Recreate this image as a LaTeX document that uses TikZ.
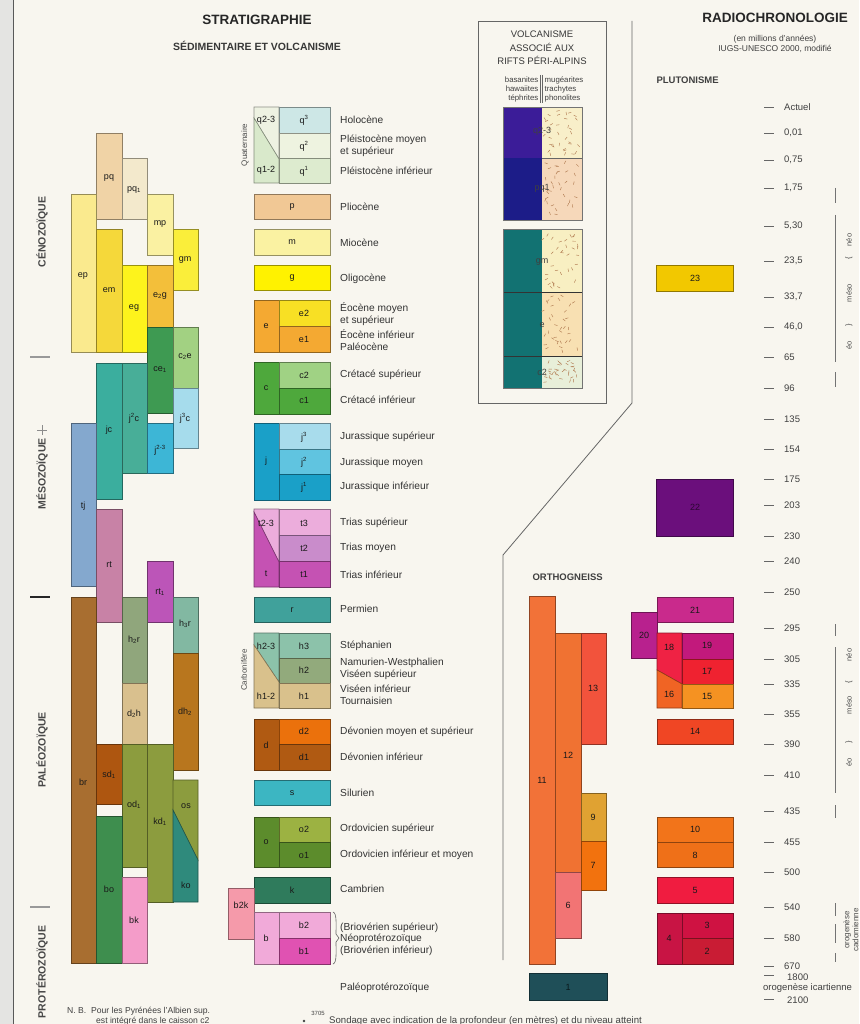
\documentclass[tikz,border=0pt]{standalone}
\usepackage{fontspec}
\setmainfont{Liberation Sans}
\definecolor{bg}{HTML}{F8F6EF}
\definecolor{stripgray}{HTML}{E4E4E2}
% left stack
\definecolor{cPQ}{HTML}{F0D3A6}\definecolor{cPQa}{HTML}{F3E9CC}\definecolor{cMP}{HTML}{FAF1A2}
\definecolor{cGM}{HTML}{FAEE3A}\definecolor{cEP}{HTML}{FAEA8E}\definecolor{cEM}{HTML}{F5D83A}
\definecolor{cEG}{HTML}{FDF31C}\definecolor{cEZG}{HTML}{F3BF3A}\definecolor{cCE}{HTML}{3E9A52}
\definecolor{cCZE}{HTML}{A2D182}\definecolor{cJTC}{HTML}{A6DCEC}\definecolor{cJC}{HTML}{3BAE9E}
\definecolor{cJZC}{HTML}{48AE98}\definecolor{cJZT}{HTML}{3DB6D6}\definecolor{cTJ}{HTML}{84A8CE}
\definecolor{cRT}{HTML}{C882A6}\definecolor{cRTa}{HTML}{BC55B8}\definecolor{cBR}{HTML}{A86E30}
\definecolor{cHZR}{HTML}{90A67C}\definecolor{cDZH}{HTML}{D9C08E}\definecolor{cHTR}{HTML}{82B8A2}
\definecolor{cDHZ}{HTML}{B8761E}\definecolor{cSD}{HTML}{AE5610}\definecolor{cOD}{HTML}{8C9C3E}
\definecolor{cKO}{HTML}{2F8A7C}\definecolor{cBO}{HTML}{3E8E4E}\definecolor{cBK}{HTML}{F49CC9}
% centre legend
\definecolor{cQT}{HTML}{CDE7E6}\definecolor{cQZ}{HTML}{EEF3E0}\definecolor{cQO}{HTML}{DDEBCF}
\definecolor{cQZT}{HTML}{EEF2E2}\definecolor{cQOZ}{HTML}{D9E9CB}\definecolor{cP}{HTML}{F1C895}
\definecolor{cM}{HTML}{FAF2A2}\definecolor{cG}{HTML}{FFF200}\definecolor{cE}{HTML}{F4A932}
\definecolor{cEZ}{HTML}{F8E024}\definecolor{cC}{HTML}{4EA83C}\definecolor{cCZ}{HTML}{A0D284}
\definecolor{cJ}{HTML}{1AA0C8}\definecolor{cJT}{HTML}{A8DCEC}\definecolor{cJZ}{HTML}{60C4E0}
\definecolor{cT}{HTML}{C552B3}\definecolor{cTT}{HTML}{ECADDC}\definecolor{cTZ}{HTML}{C98CCB}
\definecolor{cR}{HTML}{40A19B}\definecolor{cHT}{HTML}{8CC2AA}\definecolor{cHZ}{HTML}{92AA7C}
\definecolor{cHO}{HTML}{D9C18C}\definecolor{cD}{HTML}{B05A12}\definecolor{cDZ}{HTML}{EB710C}
\definecolor{cS}{HTML}{3CB6C2}\definecolor{cO}{HTML}{5C8C2C}\definecolor{cOZ}{HTML}{9CB242}
\definecolor{cK}{HTML}{2F7B5C}\definecolor{cBZK}{HTML}{F59AAA}\definecolor{cB}{HTML}{F1AAD9}
\definecolor{cBI}{HTML}{E052B2}
% volcanism
\definecolor{cVa}{HTML}{3B1C98}\definecolor{cVb}{HTML}{1C1C88}\definecolor{cVc}{HTML}{127272}
\definecolor{cVd}{HTML}{F8EFC9}\definecolor{cVe}{HTML}{F6D8BA}\definecolor{cVf}{HTML}{F8EFC2}
\definecolor{cVg}{HTML}{F8E0B2}\definecolor{cVh}{HTML}{E8EFD9}\definecolor{speckc}{HTML}{B07A50}
% plutonism / orthogneiss
\definecolor{cXXIII}{HTML}{F2C800}\definecolor{cXXII}{HTML}{6B0F7C}\definecolor{cXXI}{HTML}{C92A8C}
\definecolor{cXX}{HTML}{B8218E}\definecolor{cXIX}{HTML}{C2197C}\definecolor{cXVIII}{HTML}{EF2244}
\definecolor{cXVII}{HTML}{EF2230}\definecolor{cXVI}{HTML}{F06424}\definecolor{cXV}{HTML}{F59222}
\definecolor{cXIV}{HTML}{F04624}\definecolor{cX}{HTML}{F2741A}\definecolor{cVIII}{HTML}{EF7018}
\definecolor{cV}{HTML}{F01C40}\definecolor{cIV}{HTML}{C81444}\definecolor{cIII}{HTML}{CF1242}
\definecolor{cII}{HTML}{C91C34}\definecolor{cXI}{HTML}{F27238}\definecolor{cXII}{HTML}{F07232}
\definecolor{cVI}{HTML}{F27474}\definecolor{cXIII}{HTML}{F2533C}\definecolor{cIX}{HTML}{E0A232}
\definecolor{cVII}{HTML}{F2720E}\definecolor{cI}{HTML}{1F4F58}

\newcommand\gb[5]{\filldraw[fill=#5, draw=#5!60!black, line width=0.6pt] (#1,#2) rectangle (#3,#4);}
\newcommand\gp[2]{\filldraw[fill=#1, draw=#1!60!black, line width=0.6pt] #2 -- cycle;}
\newcommand\vspeck[4]{%
  \foreach \i in {1,...,34}{%
    \pgfmathsetmacro\rx{#1+2+rnd*(#3-#1-6)}%
    \pgfmathsetmacro\ry{#2+2+rnd*(#4-#2-6)}%
    \pgfmathsetmacro\ra{rnd*180}%
    \draw[speck] (\rx,\ry) -- ++(\ra:3.2);}}

\tikzset{
  lab/.style={font=\fontsize{9}{9}\selectfont, text=black!90, inner sep=0},
  desc/.style={font=\fontsize{10.2}{11.5}\selectfont, text=black!80, anchor=west, inner sep=0, align=left},
  tick/.style={draw=black!60, line width=0.9pt},
  num/.style={font=\fontsize{9.5}{10}\selectfont, text=black!75, anchor=west, inner sep=0},
  era/.style={rotate=90, font=\bfseries\fontsize{10.5}{11}\selectfont, text=black!72, inner sep=0},
  bar/.style={draw=black!55, line width=1pt},
  speck/.style={draw=speckc, line width=0.45pt},
  small/.style={rotate=90, font=\fontsize{7.5}{8}\selectfont, text=black!70, inner sep=0},
}

\begin{document}
\begin{tikzpicture}[x=1pt,y=-1pt]
\path[use as bounding box, fill=bg] (0,0) rectangle (859,1024);
\fill[stripgray] (0,0) rectangle (13,1024);
\draw[black!65, line width=1.3pt] (13.5,0) -- (13.5,1024);

% ---------- titles
\node[font=\bfseries\fontsize{13.5}{14}\selectfont, text=black!85] (tstrat) at (257,20) {STRATIGRAPHIE};
\node[font=\bfseries\fontsize{10.5}{11}\selectfont, text=black!78] (tsed) at (257,46) {SÉDIMENTAIRE ET VOLCANISME};
\node[font=\bfseries\fontsize{13.5}{14}\selectfont, text=black!85] (tradio) at (775,18) {RADIOCHRONOLOGIE};
\node[font=\fontsize{8.5}{10}\selectfont, text=black!75, align=center] (tmil) at (775,44) {(en millions d'années)\\IUGS-UNESCO 2000, modifié};
\node[font=\bfseries\fontsize{9.5}{10}\selectfont, text=black!75, anchor=west] (tplut) at (653,80) {PLUTONISME};
\node[font=\bfseries\fontsize{9.5}{10}\selectfont, text=black!75, anchor=west] (tortho) at (529,577) {ORTHOGNEISS};

% ---------- era labels (left)
\node[era] (cen) at (42,232) {CÉNOZOÏQUE};
\node[era] (mes) at (42,474) {MÉSOZOÏQUE};
\node[era] (pal) at (42,750) {PALÉOZOÏQUE};
\node[era] (pro) at (42,972) {PROTÉROZOÏQUE};
\draw[black!40, line width=2.5pt] (30,357) -- (50,357);
\draw[black!85, line width=1.6pt] (30,597) -- (50,597);
\draw[black!40, line width=2.5pt] (30,907) -- (50,907);
\draw[black!45, line width=0.6pt] (37,430) -- (47,430) (42,425) -- (42,435);

% ---------- left stack
\gb{96}{133}{122}{219}{cPQ}
\gb{122}{158}{147}{219}{cPQa}
\gb{147}{194}{173}{255}{cMP}
\gb{173}{229}{198}{290}{cGM}
\gb{71}{194}{96}{352}{cEP}
\gb{96}{229}{122}{352}{cEM}
\gb{122}{265}{147}{352}{cEG}
\gb{147}{265}{173}{327}{cEZG}
\gb{147}{327}{173}{413}{cCE}
\gb{173}{327}{198}{388}{cCZE}
\gb{173}{388}{198}{448}{cJTC}
\gb{96}{363}{122}{499}{cJC}
\gb{122}{363}{147}{473}{cJZC}
\gb{147}{423}{173}{473}{cJZT}
\gb{71}{423}{96}{586}{cTJ}
\gb{96}{509}{122}{622}{cRT}
\gb{147}{561}{173}{622}{cRTa}
\gb{71}{597}{96}{963}{cBR}
\gb{122}{597}{147}{683}{cHZR}
\gb{122}{683}{147}{744}{cDZH}
\gb{173}{597}{198}{653}{cHTR}
\gb{173}{653}{198}{770}{cDHZ}
\gb{96}{744}{122}{804}{cSD}
\gb{122}{744}{147}{867}{cOD}
\gb{147}{744}{173}{902}{cOD}
\gp{cOD}{(173,780) -- (198,780) -- (198,860) -- (173,810)}
\gp{cKO}{(173,810) -- (198,860) -- (198,902) -- (173,902)}
\gb{96}{816}{122}{963}{cBO}
\gb{122}{877}{147}{963}{cBK}

\node[lab] (lpq) at (109,178) {pq};
\node[lab] (lpqa) at (134,190) {pq\textsubscript{1}};
\node[lab] (lmp) at (160,224) {mp};
\node[lab] (lgm) at (185,260) {gm};
\node[lab] (lep) at (83,276) {ep};
\node[lab] (lem) at (109,290) {em};
\node[lab] (leg) at (134,308) {eg};
\node[lab] (lezg) at (160,296) {e\textsubscript{2}g};
\node[lab] (lce) at (160,370) {ce\textsubscript{1}};
\node[lab] (lcze) at (185,357) {c\textsubscript{2}e};
\node[lab] (ljtc) at (185,418) {j\textsuperscript{3}c};
\node[lab] (ljc) at (109,430) {jc};
\node[lab] (ljzc) at (134,418) {j\textsuperscript{2}c};
\node[lab] (ljzt) at (160,450) {j\textsuperscript{2-3}};
\node[lab] (ltj) at (83,506) {tj};
\node[lab] (lrt) at (109,565) {rt};
\node[lab] (lrta) at (160,592) {rt\textsubscript{1}};
\node[lab] (lbr) at (83,782) {br};
\node[lab] (lhzr) at (134,640) {h\textsubscript{2}r};
\node[lab] (ldzh) at (134,714) {d\textsubscript{2}h};
\node[lab] (lhtr) at (185,624) {h\textsubscript{3}r};
\node[lab] (ldhz) at (185,712) {dh\textsubscript{2}};
\node[lab] (lsd) at (109,775) {sd\textsubscript{1}};
\node[lab] (lod) at (134,805) {od\textsubscript{1}};
\node[lab] (lkd) at (160,822) {kd\textsubscript{1}};
\node[lab] (los) at (186,806) {os};
\node[lab] (lko) at (186,885) {ko};
\node[lab] (lbo) at (109,889) {bo};
\node[lab] (lbk) at (134,920) {bk};

% ---------- centre legend boxes
\node[rotate=90, font=\fontsize{8}{8}\selectfont, text=black!70, inner sep=0] (quat) at (245,145) {Quaternaire};
\gp{cQZT}{(254,107) -- (279,107) -- (279,159) -- (254,118)}
\gp{cQOZ}{(254,118) -- (279,159) -- (279,183) -- (254,183)}
\gb{279}{107}{330}{133}{cQT}
\gb{279}{133}{330}{158}{cQZ}
\gb{279}{158}{330}{183}{cQO}
\node[lab] (lqzt) at (266,120) {q2-3};
\node[lab] (lqoz) at (266,170) {q1-2};
\node[lab] (lqt) at (304,120) {q\textsuperscript{3}};
\node[lab] (lqz) at (304,146) {q\textsuperscript{2}};
\node[lab] (lqo) at (304,171) {q\textsuperscript{1}};

\gb{254}{194}{330}{219}{cP}   \node[lab] (lp) at (292,207) {p};
\gb{254}{229}{330}{255}{cM}   \node[lab] (lm) at (292,242) {m};
\gb{254}{265}{330}{290}{cG}   \node[lab] (lg) at (292,278) {g};

\gb{254}{300}{279}{352}{cE}
\gb{279}{300}{330}{326}{cEZ}
\gb{279}{326}{330}{352}{cE}
\node[lab] (le) at (266,326) {e}; \node[lab] (lez) at (304,313) {e2}; \node[lab] (leo) at (304,339) {e1};

\gb{254}{362}{279}{414}{cC}
\gb{279}{362}{330}{388}{cCZ}
\gb{279}{388}{330}{414}{cC}
\node[lab] (lc) at (266,388) {c}; \node[lab] (lcz) at (304,375) {c2}; \node[lab] (lco) at (304,400) {c1};

\gb{254}{423}{279}{500}{cJ}
\gb{279}{423}{330}{449}{cJT}
\gb{279}{449}{330}{474}{cJZ}
\gb{279}{474}{330}{500}{cJ}
\node[lab] (lj) at (266,461) {j}; \node[lab] (ljt) at (304,437) {j\textsuperscript{3}};
\node[lab] (ljz) at (304,462) {j\textsuperscript{2}}; \node[lab] (ljo) at (304,487) {j\textsuperscript{1}};

\gp{cTT}{(254,509) -- (279,509) -- (279,562) -- (254,512)}
\gp{cT}{(254,512) -- (279,562) -- (279,587) -- (254,587)}
\gb{279}{509}{330}{535}{cTT}
\gb{279}{535}{330}{561}{cTZ}
\gb{279}{561}{330}{587}{cT}
\node[lab] (ltzt) at (266,523) {t2-3}; \node[lab] (lt) at (266,574) {t};
\node[lab] (ltt) at (304,523) {t3}; \node[lab] (ltz) at (304,548) {t2}; \node[lab] (lto) at (304,574) {t1};

\gb{254}{597}{330}{622}{cR}   \node[lab] (lr) at (292,610) {r};

\node[rotate=90, font=\fontsize{8}{8}\selectfont, text=black!70, inner sep=0] (carb) at (244,670) {Carbonifère};
\gp{cHT}{(254,633) -- (279,633) -- (279,682) -- (254,645)}
\gp{cHO}{(254,645) -- (279,682) -- (279,708) -- (254,708)}
\gb{279}{633}{330}{658}{cHT}
\gb{279}{658}{330}{683}{cHZ}
\gb{279}{683}{330}{708}{cHO}
\node[lab] (lhzt) at (266,646) {h2-3}; \node[lab] (lhoz) at (266,696) {h1-2};
\node[lab] (lht) at (304,646) {h3}; \node[lab] (lhz) at (304,670) {h2}; \node[lab] (lho) at (304,696) {h1};

\gb{254}{719}{279}{770}{cD}
\gb{279}{719}{330}{744}{cDZ}
\gb{279}{744}{330}{770}{cD}
\node[lab] (ld) at (266,745) {d}; \node[lab] (ldz) at (304,731) {d2}; \node[lab] (ldo) at (304,757) {d1};

\gb{254}{780}{330}{805}{cS}   \node[lab] (ls) at (292,793) {s};

\gb{254}{817}{279}{867}{cO}
\gb{279}{817}{330}{842}{cOZ}
\gb{279}{842}{330}{867}{cO}
\node[lab] (lo) at (266,842) {o}; \node[lab] (loz) at (304,829) {o2}; \node[lab] (loo) at (304,855) {o1};

\gb{254}{877}{330}{903}{cK}   \node[lab] (lk) at (292,890) {k};

\gb{228}{888}{254}{939}{cBZK}
\gb{254}{912}{279}{964}{cB}
\gb{279}{912}{330}{938}{cB}
\gb{279}{938}{330}{964}{cBI}
\node[lab] (lbzk) at (241,905) {b2k};
\node[lab] (lb) at (266,938) {b}; \node[lab] (lbz) at (304,925) {b2}; \node[lab] (lbo1) at (304,951) {b1};
\draw[black!60, line width=0.6pt] (333,912) .. controls (337,913) and (336,925) .. (336,934) -- (339,938) -- (336,942) .. controls (336,951) and (337,963) .. (333,964);

% ---------- centre descriptions
\node[desc] (dhol) at (340,120) {Holocène};
\node[desc] (dplm) at (340,146) {Pléistocène moyen\\et supérieur};
\node[desc] (dpli) at (340,171) {Pléistocène inférieur};
\node[desc] (dplio) at (340,207) {Pliocène};
\node[desc] (dmio) at (340,243) {Miocène};
\node[desc] (doli) at (340,279) {Oligocène};
\node[desc] (deom) at (340,314) {Éocène moyen\\et supérieur};
\node[desc] (deoi) at (340,340) {Éocène inférieur\\Paléocène};
\node[desc] (dcrs) at (340,375) {Crétacé supérieur};
\node[desc] (dcri) at (340,400) {Crétacé inférieur};
\node[desc] (djus) at (340,437) {Jurassique supérieur};
\node[desc] (djum) at (340,463) {Jurassique moyen};
\node[desc] (djui) at (340,487) {Jurassique inférieur};
\node[desc] (dtrs) at (340,523) {Trias supérieur};
\node[desc] (dtrm) at (340,548) {Trias moyen};
\node[desc] (dtri) at (340,575) {Trias inférieur};
\node[desc] (dper) at (340,609) {Permien};
\node[desc] (dste) at (340,646) {Stéphanien};
\node[desc] (dnam) at (340,669) {Namurien-Westphalien\\Viséen supérieur};
\node[desc] (dvis) at (340,695) {Viséen inférieur\\Tournaisien};
\node[desc] (ddvs) at (340,732) {Dévonien moyen et supérieur};
\node[desc] (ddvi) at (340,757) {Dévonien inférieur};
\node[desc] (dsil) at (340,793) {Silurien};
\node[desc] (dors) at (340,829) {Ordovicien supérieur};
\node[desc] (dori) at (340,855) {Ordovicien inférieur et moyen};
\node[desc] (dcam) at (340,889) {Cambrien};
\node[desc] (dbri) at (340,939) {(Briovérien supérieur)\\Néoprotérozoïque\\(Briovérien inférieur)};
\node[desc] (dpal) at (340,988) {Paléoprotérozoïque};

% ---------- volcanism box
\draw[black!60, line width=0.8pt] (478,21) rectangle (606,403);
\node[font=\fontsize{9.5}{13.5}\selectfont, text=black!78, align=center] (vtit) at (542,48) {VOLCANISME\\ASSOCIÉ AUX\\RIFTS PÉRI-ALPINS};
\node[font=\fontsize{7.8}{9}\selectfont, text=black!75, align=right, anchor=east, inner sep=0] (vbas) at (538.5,89) {basanites\\hawaiites\\téphrites};
\node[font=\fontsize{7.8}{9}\selectfont, text=black!75, align=left, anchor=west, inner sep=0] (vmug) at (544.5,89) {mugéarites\\trachytes\\phonolites};
\draw[black!60, line width=0.5pt] (540.3,75) -- (540.3,103) (542.7,75) -- (542.7,103);

\fill[cVa] (503,107) rectangle (542,158);
\fill[cVb] (503,158) rectangle (542,220);
\fill[cVd] (542,107) rectangle (582,158);
\fill[cVe] (542,158) rectangle (582,220);
\draw[black!60, line width=0.5pt] (542,158) -- (582,158);
\draw[black!55, line width=0.6pt] (503,107) rectangle (582,220);
\fill[cVc] (503,229) rectangle (542,388);
\fill[cVf] (542,229) rectangle (582,292);
\fill[cVg] (542,292) rectangle (582,356);
\fill[cVh] (542,356) rectangle (582,388);
\pgfmathsetseed{7}
\vspeck{542}{107}{582}{158}
\vspeck{542}{158}{582}{220}
\vspeck{542}{229}{582}{292}
\vspeck{542}{292}{582}{356}
\vspeck{542}{356}{582}{388}
\draw[black!80, line width=0.6pt] (503,292) -- (582,292) (503,356) -- (582,356);
\draw[black!55, line width=0.6pt] (503,229) rectangle (582,388);
\node[lab, text=black!75] (vq) at (542,131) {q2-3};
\node[lab, text=black!75] (vpq) at (542,188) {pq1};
\node[lab, text=black!75] (vgm) at (542,262) {gm};
\node[lab, text=black!75] (ve) at (542,325) {e};
\node[lab, text=black!75] (vc) at (542,372) {c2};

% separator line
\coordinate (sa) at (632,21);
\coordinate (sb) at (632,403);
\coordinate (sc) at (503,555);
\coordinate (sd) at (503,960);
\draw[black!60, line width=0.8pt] (sa) -- (sb) -- (sc) -- (sd);

% ---------- plutonism
\gb{656}{265}{733}{291}{cXXIII} \node[lab] (p23) at (695,278) {23};
\gb{656}{479}{733}{536}{cXXII} \node[lab, text=black!60!cXXII] (p22) at (695,507) {22};
\gb{657}{597}{733}{622}{cXXI} \node[lab] (p21) at (695,610) {21};
\gb{631}{612}{657}{658}{cXX} \node[lab] (p20) at (644,635) {20};
\gp{cXVIII}{(657,633) -- (682,633) -- (682,684) -- (657,670)}
\gp{cXVI}{(657,670) -- (682,684) -- (682,708) -- (657,708)}
\gb{682}{633}{733}{659}{cXIX}
\gb{682}{659}{733}{684}{cXVII}
\gb{682}{684}{733}{708}{cXV}
\node[lab] (p18) at (669,647) {18}; \node[lab] (p19) at (707,645) {19};
\node[lab] (p17) at (707,671) {17}; \node[lab] (p16) at (669,694) {16}; \node[lab] (p15) at (707,696) {15};
\gb{657}{719}{733}{744}{cXIV} \node[lab] (p14) at (695,731) {14};
\gb{657}{817}{733}{842}{cX} \node[lab] (p10) at (695,829) {10};
\gb{657}{842}{733}{867}{cVIII} \node[lab] (p8) at (695,855) {8};
\gb{657}{877}{733}{903}{cV} \node[lab] (p5) at (695,890) {5};
\gb{657}{913}{682}{964}{cIV}
\gb{682}{913}{733}{938}{cIII}
\gb{682}{938}{733}{964}{cII}
\node[lab] (p4) at (669,938) {4}; \node[lab] (p3) at (707,925) {3}; \node[lab] (p2) at (707,951) {2};

% ---------- orthogneiss
\gb{529}{596}{555}{964}{cXI} \node[lab] (o11) at (542,780) {11};
\gb{555}{633}{581}{872}{cXII} \node[lab] (o12) at (568,755) {12};
\gb{555}{872}{581}{938}{cVI} \node[lab] (o6) at (568,905) {6};
\gb{581}{633}{606}{744}{cXIII} \node[lab] (o13) at (593,688) {13};
\gb{581}{793}{606}{841}{cIX} \node[lab] (o9) at (593,817) {9};
\gb{581}{841}{606}{890}{cVII} \node[lab] (o7) at (593,865) {7};
\gb{529}{973}{607}{1000}{cI} \node[lab, text=black!70!cI] (o1) at (568,987) {1};

% ---------- time scale
\foreach \yy/\tl in {107/Actuel,133/{0,01},160/{0,75},188/{1,75},226/{5,30},261/{23,5},297/{33,7},327/{46,0},357/65,388/96,419/135,449/154,479/175,505/203,536/230,561/240,592/250,628/295,659/305,684/335,714/355,744/390,775/410,811/435,842/455,872/500,907/540,938/580,966/670}{%
  \draw[tick] (764,\yy) -- (774,\yy);
  \node[num] (ts\yy) at (784,\yy) {\tl};
}
\draw[tick] (764,975) -- (774,975);
\node[num] (ts1800) at (787,977) {1800};
\node[num] (tsic) at (763,988) {orogenèse icartienne};
\draw[tick] (764,999) -- (774,999);
\node[num] (ts2100) at (787,1000) {2100};

% period bars (right)
\draw[bar] (835,188) -- (835,203);
\draw[bar] (835,215) -- (835,362);
\draw[bar] (835,372) -- (835,387);
\node[small] (rn1) at (849,240) {néo};
\node[small] (rb1) at (849,258) {\{};
\node[small] (rm1) at (849,293) {méso};
\node[small] (rb2) at (849,325) {\}};
\node[small] (re1) at (849,345) {éo};

\draw[bar] (835,624) -- (835,636);
\draw[bar] (835,647) -- (835,793);
\draw[bar] (835,805) -- (835,818);
\node[small] (rn2) at (849,655) {néo};
\node[small] (rb3) at (849,682) {\{};
\node[small] (rm2) at (849,705) {méso};
\node[small] (rb4) at (849,742) {\}};
\node[small] (re2) at (849,762) {éo};

\draw[bar] (835,903) -- (835,916);
\draw[bar] (835,924) -- (835,943);
\draw[bar] (835,953) -- (835,962);
\node[rotate=90, font=\fontsize{8}{9}\selectfont, text=black!70, align=center, inner sep=0] (rcad) at (851,930) {orogenèse\\cadomienne};

% ---------- notes
\node[font=\fontsize{8.6}{10}\selectfont, text=black!75, anchor=west, inner sep=0] (nb1) at (67,1011) {N. B.\ \ Pour les Pyrénées l'Albien sup.};
\node[font=\fontsize{8.6}{10}\selectfont, text=black!75, anchor=west, inner sep=0] (nb2) at (96,1021) {est intégré dans le caisson c2};
\fill[black!75] (304,1021) circle (1.3);
\node[font=\fontsize{6}{6}\selectfont, text=black!75, inner sep=0] (n3705) at (318,1013) {3705};
\node[font=\fontsize{9.6}{10}\selectfont, text=black!75, anchor=west, inner sep=0] (nson) at (329,1021) {Sondage avec indication de la profondeur (en mètres) et du niveau atteint};
\end{tikzpicture}
\end{document}
